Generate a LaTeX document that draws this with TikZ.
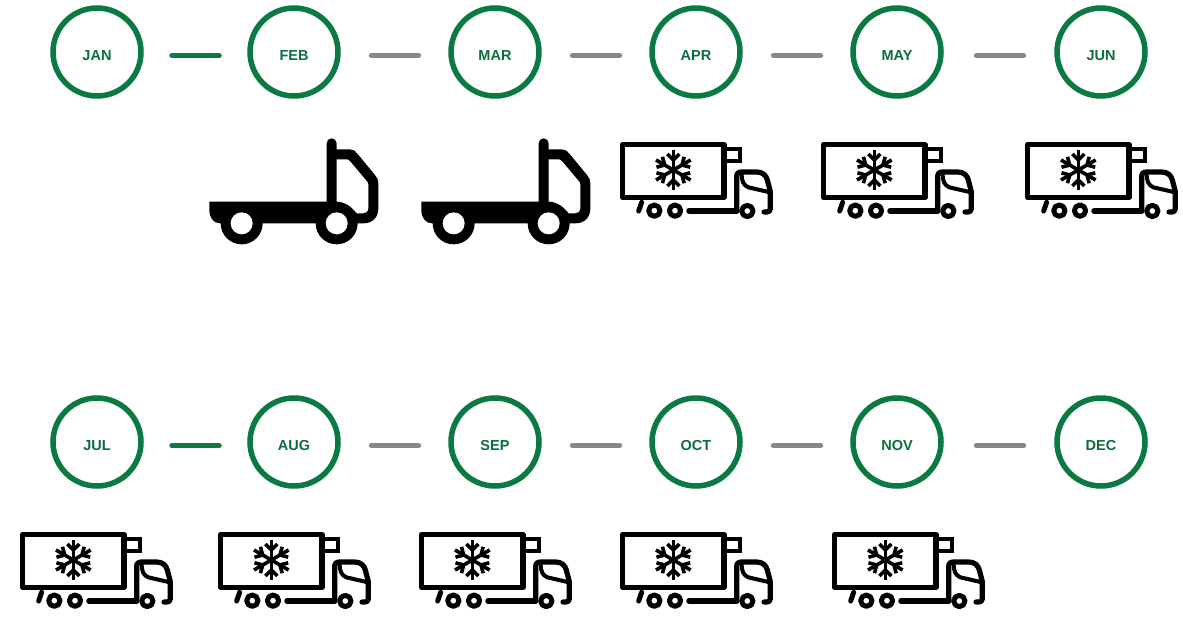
\documentclass[tikz,border=0pt]{standalone}
\usepackage{fontspec}
\setmainfont{Liberation Sans}
\definecolor{ringgreen}{HTML}{0A7A42}
\definecolor{textgreen}{HTML}{0B6E3E}
\definecolor{linkgray}{HTML}{888888}
\tikzset{
  month/.style={circle,draw=ringgreen,line width=5.5pt,minimum size=88pt,inner sep=0pt,
    text=textgreen,font=\bfseries\fontsize{14.5pt}{14.5pt}\selectfont,text height=16.4pt,text depth=0pt},
  linkon/.style={draw=ringgreen,line width=5.5pt,line cap=round},
  linkoff/.style={draw=linkgray,line width=5.5pt,line cap=round},
  reefer/.pic={
    \begin{scope}[x=0.33333pt,y=-0.33333pt,line width=5.2pt,line join=round,line cap=round]
      \draw[line width=5.5pt] (38,44) rectangle (342,202);
      \draw[line width=4pt,line cap=butt,line join=miter] (345,57) -- (389,57) -- (389,93) -- (350,93);
      \draw (380,243) -- (380,140) .. controls (380,130) and (385,126) .. (395,126) -- (440,126)
        .. controls (458,126) and (468,136) .. (472,150) -- (481,185) -- (481,236)
        .. controls (481,243) and (477,246) .. (470,246) -- (462,246);
      \draw[line width=4pt] (395,130) .. controls (395,155) and (400,165) .. (415,172) -- (480,187);
      \draw[line width=5.5pt] (237,243) -- (380,243);
      \draw[line width=5pt] (412,243) circle[radius=17];
      \draw[line width=5pt] (133,242) circle[radius=17];
      \draw[line width=5pt] (195,242) circle[radius=17];
      \draw[line width=5pt] (95,217) -- (86,243);
      \begin{scope}[shift={(190,120)},line width=3.6pt,line cap=butt]
        \foreach \a in {90,150,210,270,330,30}{
          \draw[rotate=\a,x=0.33333pt,y=0.33333pt] (0,0) -- (60,0);
          \draw[rotate=\a,x=0.33333pt,y=0.33333pt,line join=miter] (48,-18) -- (30,0) -- (48,18);
        }
      \end{scope}
    \end{scope}
  },
  flatbed/.pic={
    \begin{scope}[x=0.33333pt,y=-0.33333pt]
      \fill[black,even odd rule]
        (28,215) -- (380,215) -- (380,40) arc[start angle=180,end angle=360,radius=15] -- (410,58)
        -- (450,58) .. controls (460,58) and (468,64) .. (473,72) -- (525,135)
        .. controls (532,143) and (535,150) .. (535,160) -- (535,235)
        .. controls (535,262) and (518,280) .. (490,280) -- (60,280)
        .. controls (40,280) and (28,262) .. (28,240) -- cycle
        (410,88) -- (440,88) .. controls (445,88) and (448,90) .. (451,94) -- (498,150)
        .. controls (503,155) and (505,158) .. (505,163) -- (505,235)
        .. controls (505,245) and (498,250) .. (490,250) -- (470,250)
        .. controls (452,228) and (435,216) .. (410,215) -- cycle;
      \fill[black] (125,280) circle[radius=63];
      \fill[black] (410,280) circle[radius=63];
      \fill[white] (125,280) circle[radius=33];
      \fill[white] (410,280) circle[radius=33];
    \end{scope}
  }
}
\begin{document}
\begin{tikzpicture}[x=1pt,y=-1pt]
  \useasboundingbox[fill=white] (0,0) rectangle (1183,637);
  % months, first row
  \node[month] (jan) at (97,52) {JAN};
  \node[month] (feb) at (294,52) {FEB};
  \node[month] (mar) at (495,52) {MAR};
  \node[month] (apr) at (696,52) {APR};
  \node[month] (may) at (897,52) {MAY};
  \node[month] (jun) at (1101,52) {JUN};
  % months, second row
  \node[month] (jul) at (97,442) {JUL};
  \node[month] (aug) at (294,442) {AUG};
  \node[month] (sep) at (495,442) {SEP};
  \node[month] (oct) at (696,442) {OCT};
  \node[month] (nov) at (897,442) {NOV};
  \node[month] (dec) at (1101,442) {DEC};
  % link ends
  \foreach \n/\xa/\xb in {a/172/219,b/371.5/418.5,c/572.5/619.5,d/773.5/820.5,e/976.5/1023.5}{
    \coordinate (\n1s) at (\xa,55.5); \coordinate (\n1t) at (\xb,55.5);
    \coordinate (\n2s) at (\xa,445.5); \coordinate (\n2t) at (\xb,445.5);
  }
  \draw[linkon] (a1s) -- (a1t);
  \draw[linkoff] (b1s) -- (b1t);
  \draw[linkoff] (c1s) -- (c1t);
  \draw[linkoff] (d1s) -- (d1t);
  \draw[linkoff] (e1s) -- (e1t);
  \draw[linkon] (a2s) -- (a2t);
  \draw[linkoff] (b2s) -- (b2t);
  \draw[linkoff] (c2s) -- (c2t);
  \draw[linkoff] (d2s) -- (d2t);
  \draw[linkoff] (e2s) -- (e2t);
  % trucks
  \pic at (200,130) {flatbed};
  \pic at (412,130) {flatbed};
  \pic at (610,130) {reefer};
  \pic at (811,130) {reefer};
  \pic at (1015,130) {reefer};
  \pic at (10,520) {reefer};
  \pic at (208,520) {reefer};
  \pic at (409,520) {reefer};
  \pic at (610,520) {reefer};
  \pic at (822,520) {reefer};
\end{tikzpicture}
\end{document}
